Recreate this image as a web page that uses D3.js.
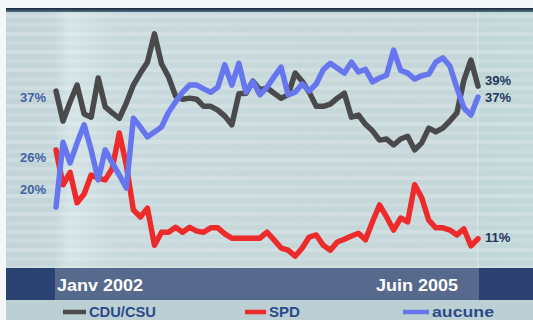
<!DOCTYPE html>
<html><head><meta charset="utf-8">
<script src="https://cdn.jsdelivr.net/npm/d3@7"></script>
<style>html,body{margin:0;padding:0;background:#fff;}svg{display:block;}</style>
</head><body>
<svg id="chart" width="533" height="320"></svg>
<script>
// ---- data (poll %, Janv 2002 .. Juin 2005) ----
const cdu = [38.1,32.6,36.1,39.2,33.9,33.3,40.5,35.2,34.1,33.1,35.9,39.2,41.4,43.4,48.6,43.1,40.7,37.2,36.6,36.8,36.6,35.3,35.3,34.6,33.5,31.9,37.6,37.7,39.9,38.3,38.7,37.7,36.8,37.4,41.4,39.9,37.9,35.3,35.3,35.7,36.8,37.7,33.3,33.7,32.0,30.8,29.1,29.3,28.2,29.3,29.8,27.3,28.6,31.3,30.6,31.3,32.6,34.1,40.1,43.8,39.0];
const spd = [27.3,20.9,23.2,17.6,19.2,22.7,22.1,21.8,23.9,30.4,24.5,16.3,15.0,16.6,9.8,12.2,12.2,13.1,12.2,13.1,12.4,12.2,13.0,13.0,11.9,11.1,11.1,11.1,11.1,11.1,12.2,10.8,9.3,8.9,7.8,9.3,11.3,11.7,9.8,8.9,10.4,10.9,11.5,12.0,10.8,14.1,17.2,15.0,12.6,14.8,14.1,20.9,18.5,14.4,13.0,13.0,12.6,11.7,12.8,9.7,11.0];
const aucune = [16.8,28.7,24.9,28.6,31.9,27.3,21.8,27.3,24.9,22.7,20.3,33.1,31.5,29.7,30.6,31.5,34.2,36.1,37.9,39.2,39.2,38.5,37.9,38.8,42.9,39.2,43.2,37.9,39.8,37.4,38.8,40.7,42.5,37.4,37.9,39.4,38.1,39.4,42.0,43.2,42.3,41.4,43.4,41.6,42.1,39.8,40.5,41.0,45.6,41.9,41.4,40.3,40.9,41.2,43.4,44.2,42.7,38.7,35.0,33.7,37.0];
const leftLabels = [37, 26, 20];
const rightLabels = [39, 37, 11];
const dateLabels = ["Janv 2002", "Juin 2005"];
const seriesNames = ["CDU/CSU", "SPD", "aucune"];

const svg = d3.select("#chart");
const W = 533, H = 320;
const x = d3.scaleLinear().domain([0, cdu.length - 1]).range([56, 478]);
const y = d3.scaleLinear().domain([0, 50]).range([298.7, 26.2]);

// ---- background ----
const defs = svg.append("defs");
const vg = defs.append("linearGradient").attr("id","vband").attr("x1",0).attr("x2",1).attr("y1",0).attr("y2",0);
vg.append("stop").attr("offset","0").attr("stop-color","#c2d4d8");
vg.append("stop").attr("offset","0.09").attr("stop-color","#c4d6da");
vg.append("stop").attr("offset","0.12").attr("stop-color","#d4e4e6");
vg.append("stop").attr("offset","0.2").attr("stop-color","#c8dadd");
vg.append("stop").attr("offset","0.5").attr("stop-color","#c7d8db");
vg.append("stop").attr("offset","0.88").attr("stop-color","#c6d7da");
vg.append("stop").attr("offset","0.9").attr("stop-color","#c1d6d7");
vg.append("stop").attr("offset","1").attr("stop-color","#c3d8d9");
svg.append("rect").attr("x",0).attr("y",0).attr("width",W).attr("height",H).attr("fill","#f4f7f8");
svg.append("rect").attr("x",6).attr("y",11).attr("width",W-6).attr("height",H-11).attr("fill","url(#vband)");
// horizontal stripes
const stripeYs = d3.range(14, 268, 9);
svg.append("g").selectAll("rect").data(stripeYs).join("rect")
  .attr("x",6).attr("width",W-6).attr("y",d=>d).attr("height",4)
  .attr("fill","#ffffff").attr("opacity",(d,i)=> i%2 ? 0.12 : 0.2);
// top dark rule
const tg = defs.append("linearGradient").attr("id","topr").attr("x1",0).attr("x2",0).attr("y1",0).attr("y2",1);
tg.append("stop").attr("offset","0").attr("stop-color","#1a2636");
tg.append("stop").attr("offset","1").attr("stop-color","#51708a");
svg.append("rect").attr("x",6).attr("y",8).attr("width",W-6).attr("height",4).attr("fill","url(#topr)");
// right panel divider
svg.append("rect").attr("x",477).attr("y",12).attr("width",1.5).attr("height",256).attr("fill","#e2eeef").attr("opacity",0.6);

// bottom band
svg.append("rect").attr("x",6).attr("y",268).attr("width",W-6).attr("height",32).attr("fill","#57698c");
svg.append("rect").attr("x",6).attr("y",268).attr("width",49).attr("height",32).attr("fill","#2a4272");
svg.append("rect").attr("x",479).attr("y",268).attr("width",W-479).attr("height",32).attr("fill","#2c4170");
svg.append("rect").attr("x",6).attr("y",300).attr("width",W-6).attr("height",20).attr("fill","#bcd0d4");

// ---- lines ----
const line = d3.line().x((d,i)=>x(i)).y(d=>y(d));
const series = [
  {name: seriesNames[0], data: cdu, color: "#4a4a4c"},
  {name: seriesNames[1], data: spd, color: "#ee2b2b"},
  {name: seriesNames[2], data: aucune, color: "#6676ee"}
];
const order = [1, 0, 2];
svg.append("g").selectAll("path").data(order.map(i=>series[i])).join("path")
  .attr("d", d=>line(d.data)).attr("fill","none")
  .attr("stroke", d=>d.color).attr("stroke-width",5.5)
  .attr("stroke-linejoin","round").attr("stroke-linecap","round");

// ---- value labels ----
svg.append("g").selectAll("text").data(leftLabels).join("text")
  .attr("x", 46).attr("y", d=>y(d)).attr("dy","0.36em").attr("text-anchor","end")
  .attr("font-family","Liberation Sans, Arial, sans-serif").attr("font-weight","bold")
  .attr("font-size",13).attr("fill","#4563a0").text(d=>d+"%");
const rOff = [-5.5, 0, -1.5];
svg.append("g").selectAll("text").data(rightLabels).join("text")
  .attr("x", 485).attr("y", (d,i)=>y(d)+rOff[i]).attr("dy","0.36em")
  .attr("font-family","Liberation Sans, Arial, sans-serif").attr("font-weight","bold")
  .attr("font-size",13).attr("fill","#22365e").text(d=>d+"%");

// ---- date labels ----
const dateX = [57, 376];
svg.append("g").selectAll("text").data(dateLabels).join("text")
  .attr("x",(d,i)=>dateX[i]).attr("y",291)
  .attr("font-family","Liberation Sans, Arial, sans-serif").attr("font-weight","bold")
  .attr("font-size",17).attr("fill","#ffffff")
  .attr("textLength",(d,i)=> i ? 82 : 86).attr("lengthAdjust","spacingAndGlyphs").text(d=>d);

// ---- legend ----
const legX = [63, 245, 403];
const legLen = [23, 21, 26];
const legTL = [67, 31, 62];
const lg = svg.append("g");
series.forEach((s,i)=>{
  lg.append("line").attr("x1",legX[i]).attr("x2",legX[i]+legLen[i]).attr("y1",312).attr("y2",312)
    .attr("stroke", s.color).attr("stroke-width",4.5);
  lg.append("text").attr("x",legX[i]+legLen[i]+3).attr("y",317)
    .attr("font-family","Liberation Sans, Arial, sans-serif").attr("font-weight","bold")
    .attr("font-size",15).attr("fill","#2c4a8a")
    .attr("textLength",legTL[i]).attr("lengthAdjust","spacingAndGlyphs").text(s.name);
});
</script>
</body></html>
